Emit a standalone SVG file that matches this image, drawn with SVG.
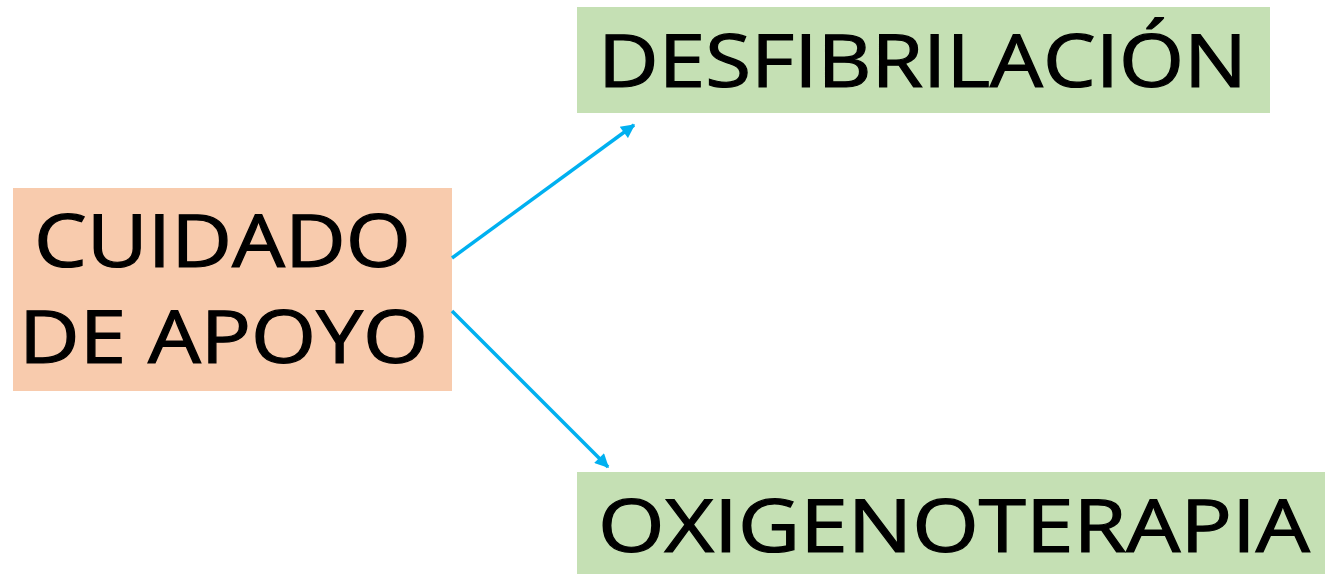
<svg xmlns="http://www.w3.org/2000/svg" width="1325" height="574" viewBox="0 0 1325 574">
  <style>
    .lbl { font-family: "Open Sans", "Liberation Sans", sans-serif; font-size: 73px; fill: #000; stroke: #000; stroke-width: 1.2px; }
    .conn { stroke: #00B0F0; stroke-width: 3.5; fill: none; }
  </style>
  <defs>
    <marker id="ah" viewBox="0 0 10 10" refX="9" refY="5" markerWidth="4.5" markerHeight="4" orient="auto" markerUnits="strokeWidth">
      <path d="M0,0 L10,5 L0,10 z" fill="#00B0F0"/>
    </marker>
  </defs>
  <rect width="1325" height="574" fill="#fff"/>
  <g id="node-cuidado">
    <rect x="13" y="188" width="439" height="203" fill="#F8CBAD"/>
    <text class="lbl" x="34" y="267" textLength="377" lengthAdjust="spacingAndGlyphs">CUIDADO</text>
    <text class="lbl" x="19" y="363" textLength="409" lengthAdjust="spacingAndGlyphs">DE APOYO</text>
  </g>
  <g id="node-desfibrilacion">
    <rect x="577" y="7" width="693" height="106" fill="#C5E0B4"/>
    <text class="lbl" x="598" y="87" textLength="649" lengthAdjust="spacingAndGlyphs">DESFIBRILACIÓN</text>
  </g>
  <g id="node-oxigenoterapia">
    <rect x="577" y="472" width="748" height="102" fill="#C5E0B4"/>
    <text class="lbl" x="598" y="552" textLength="712" lengthAdjust="spacingAndGlyphs">OXIGENOTERAPIA</text>
  </g>
  <g id="connectors">
    <line class="conn" x1="452" y1="258" x2="634" y2="125" marker-end="url(#ah)"/>
    <line class="conn" x1="452" y1="311" x2="608" y2="467" marker-end="url(#ah)"/>
  </g>
</svg>
